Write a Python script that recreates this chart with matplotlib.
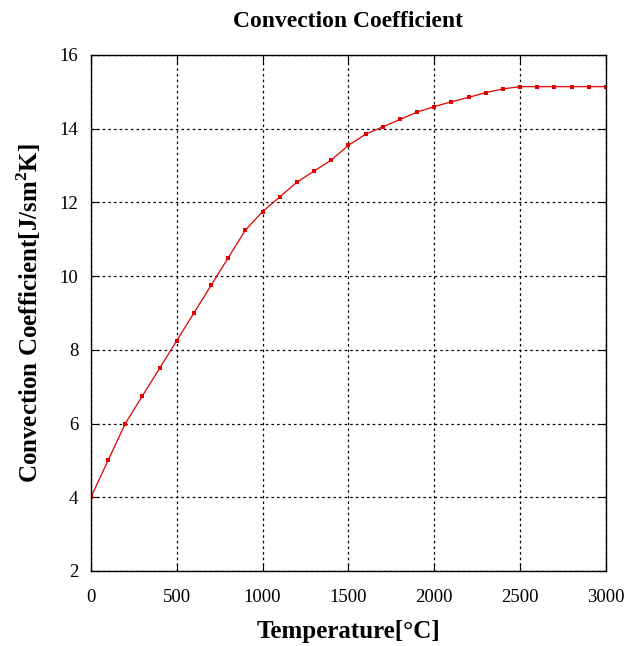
import matplotlib
matplotlib.use('Agg')
import matplotlib.pyplot as plt

plt.rcParams['font.family'] = ['Liberation Serif', 'DejaVu Serif']
plt.rcParams['mathtext.fontset'] = 'custom'
plt.rcParams['mathtext.rm'] = 'Liberation Serif'
plt.rcParams['mathtext.bf'] = 'Liberation Serif:bold'

# temperature [C] and convection coefficient
temperature = [0, 100, 200, 300, 400, 500, 600, 700, 800, 900, 1000,
               1100, 1200, 1300, 1400, 1500, 1600, 1700, 1800, 1900, 2000,
               2100, 2200, 2300, 2400, 2500, 2600, 2700, 2800, 2900, 3000]
coefficient = [4.0, 5.0, 6.0, 6.75, 7.5, 8.25, 9.0, 9.75, 10.5, 11.25, 11.75,
               12.15, 12.55, 12.85, 13.15, 13.55, 13.85, 14.05, 14.25, 14.45, 14.6,
               14.73, 14.85, 14.98, 15.08, 15.14, 15.14, 15.14, 15.14, 15.14, 15.14]

x_ticks = [0, 500, 1000, 1500, 2000, 2500, 3000]
y_ticks = [2, 4, 6, 8, 10, 12, 14, 16]

fig = plt.figure(figsize=(6.27, 6.46), dpi=100)
ax = fig.add_axes([0.145, 0.1161, 0.8215, 0.7988])

ax.plot(temperature, coefficient, color='#e00000', linewidth=0.9,
        marker='s', markersize=3.4, markeredgewidth=0)

ax.set_xlim(0, 3000)
ax.set_ylim(2, 16)
ax.set_xticks(x_ticks)
ax.set_yticks(y_ticks)
ax.grid(True, color='black', linestyle=(0, (2, 2.5)), linewidth=0.9)
ax.tick_params(direction='in', length=6, top=True, right=True, labelsize=13.5)
ax.tick_params(axis='x', pad=13)
ax.tick_params(axis='y', pad=9)
for s in ax.spines.values():
    s.set_linewidth(1.0)

ax.set_title('Convection Coefficient', fontsize=17, fontweight='bold', pad=20)
ax.set_xlabel('Temperature[°C]', fontsize=18, fontweight='bold', labelpad=10)
ax.set_ylabel(r'Convection Coefficient[J/sm$^{\mathbf{2}}$K]', fontsize=18,
              fontweight='bold', labelpad=12)

fig.savefig('out.png', dpi=100)
